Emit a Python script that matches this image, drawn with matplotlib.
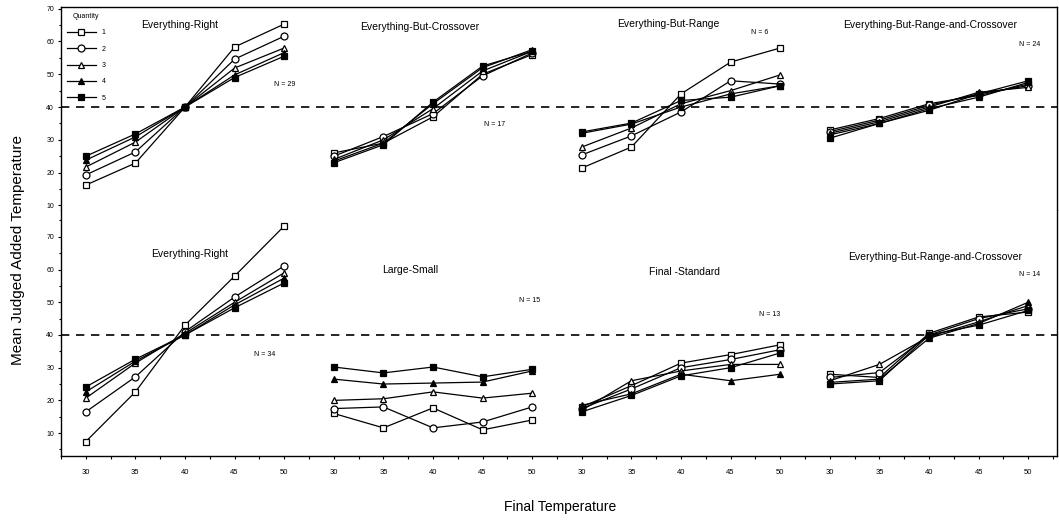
import numpy as np
import matplotlib.pyplot as plt
from matplotlib.ticker import FixedLocator, MultipleLocator

plt.rcParams['font.family'] = ['Liberation Sans', 'DejaVu Sans']

temps = [30, 35, 40, 45, 50]
quantities = ['1', '2', '3', '4', '5']

top_titles = ['Everything-Right', 'Everything-But-Crossover',
              'Everything-But-Range', 'Everything-But-Range-and-Crossover']
top_n = ['N = 29', 'N = 17', 'N = 6', 'N = 24']
bottom_titles = ['Everything-Right', 'Large-Small', 'Final -Standard',
                 'Everything-But-Range-and-Crossover']
bottom_n = ['N = 34', 'N = 15', 'N = 13', 'N = 14']

# rows = quantity 1..5, columns = final temperature 30..50
top_everything_right = [[16.2, 22.9, 40.0, 58.3, 65.3],
                        [19.3, 26.3, 40.0, 54.6, 61.6],
                        [21.7, 29.3, 40.0, 51.9, 58.0],
                        [23.8, 30.9, 40.0, 49.8, 56.6],
                        [25.0, 31.8, 40.0, 49.0, 55.5]]
top_but_crossover = [[26.0, 29.0, 37.0, 50.0, 56.0],
                     [25.0, 31.0, 38.0, 49.5, 56.5],
                     [24.0, 30.0, 39.5, 51.0, 57.0],
                     [23.5, 29.0, 41.0, 52.0, 57.5],
                     [23.0, 28.5, 41.5, 52.5, 57.0]]
top_but_range = [[21.4, 27.8, 44.0, 53.7, 58.0],
                 [25.4, 31.2, 38.5, 48.0, 47.0],
                 [27.8, 33.6, 41.0, 45.0, 49.8],
                 [32.0, 34.8, 40.0, 44.0, 46.5],
                 [32.4, 35.1, 42.0, 43.0, 46.5]]
top_but_range_crossover = [[33.0, 36.5, 41.0, 43.5, 47.0],
                           [32.5, 36.0, 40.5, 44.0, 46.5],
                           [32.0, 35.5, 40.0, 44.5, 46.0],
                           [31.5, 35.0, 39.5, 43.0, 47.5],
                           [30.5, 35.0, 39.0, 44.0, 48.0]]

bottom_everything_right = [[7.4, 22.6, 43.0, 58.0, 73.3],
                           [16.5, 27.2, 41.0, 51.6, 61.1],
                           [20.7, 31.4, 40.5, 50.0, 59.0],
                           [22.6, 32.0, 40.0, 49.2, 57.4],
                           [24.1, 32.6, 40.0, 48.3, 55.9]]
bottom_large_small = [[16.0, 11.6, 17.7, 11.0, 14.0],
                      [17.5, 18.0, 11.6, 13.4, 18.0],
                      [20.0, 20.5, 22.6, 20.7, 22.2],
                      [26.5, 25.0, 25.3, 25.6, 29.0],
                      [30.2, 28.4, 30.2, 27.2, 29.5]]
bottom_final_standard = [[18.0, 24.5, 31.4, 34.0, 37.0],
                         [17.5, 23.5, 30.0, 32.5, 35.5],
                         [17.0, 26.0, 29.0, 31.0, 31.0],
                         [18.5, 22.0, 28.0, 26.0, 28.0],
                         [16.5, 21.5, 27.5, 30.0, 34.5]]
bottom_but_range_crossover = [[28.0, 27.0, 40.5, 45.5, 47.0],
                              [27.0, 28.5, 40.0, 45.0, 48.0],
                              [26.0, 31.0, 39.5, 44.0, 49.0],
                              [25.5, 26.5, 39.0, 43.5, 50.0],
                              [25.0, 26.0, 40.0, 43.0, 47.5]]

top_panels = [top_everything_right, top_but_crossover,
              top_but_range, top_but_range_crossover]
bottom_panels = [bottom_everything_right, bottom_large_small,
                 bottom_final_standard, bottom_but_range_crossover]

markers = ['s', 'o', '^', '^', 's']
faces = ['white', 'white', 'white', 'black', 'black']

W, H = 1059, 521
fig = plt.figure(figsize=(W / 100, H / 100), dpi=100)


def fx(px):
    return px / W


def fy(py):
    return 1 - py / H


left, right = fx(61), fx(1057)
ax_top = fig.add_axes([left, fy(210), right - left, fy(7) - fy(210)])
ax_bot = fig.add_axes([left, fy(456), right - left, fy(210) - fy(456)])

xpos = np.arange(len(temps))
for ax, panels in [(ax_top, top_panels), (ax_bot, bottom_panels)]:
    for p, panel in enumerate(panels):
        for q, vals in enumerate(panel):
            ax.plot(xpos + p * len(temps), vals, color='black', lw=0.9,
                    marker=markers[q], ms=5, mfc=faces[q], mec='black',
                    mew=0.9, label=quantities[q] if p == 0 else None)
    ax.axhline(40, color='black', lw=1.2, ls=(0, (5, 4)))
    ax.set_xlim(-0.5, 19.58)
    for s in ax.spines.values():
        s.set_linewidth(1.0)
    ax.yaxis.set_major_locator(FixedLocator([10, 20, 30, 40, 50, 60, 70]))
    ax.yaxis.set_minor_locator(MultipleLocator(5))
    ax.tick_params(axis='y', labelsize=5, length=2, width=0.8, pad=3)
    ax.tick_params(axis='y', which='minor', length=1.5, width=0.8)

ax_top.set_ylim(8.6, 70.5)
ax_bot.set_ylim(3.0, 78.2)
ax_top.spines['bottom'].set_visible(False)
ax_bot.spines['top'].set_visible(False)
ax_top.tick_params(axis='x', bottom=False, labelbottom=False)

ax_bot.set_xticks(np.arange(20))
ax_bot.set_xticklabels([str(t) for t in temps] * 4)
ax_bot.xaxis.set_minor_locator(MultipleLocator(0.5))
ax_bot.tick_params(axis='x', labelsize=5.5, length=2.5, width=0.8, pad=7)
ax_bot.tick_params(axis='x', which='minor', length=2, width=0.8)

top_title_pos = [(180, 25), (420, 27), (668, 24), (930, 25)]
top_n_pos = [(285, 85), (495, 125), (760, 33), (1030, 45)]
bot_title_pos = [(190, 254), (410, 270), (685, 272), (935, 257)]
bot_n_pos = [(265, 354), (530, 301), (770, 315), (1030, 275)]

for t, (x, y) in zip(top_titles, top_title_pos):
    fig.text(fx(x), fy(y), t, fontsize=7.5, ha='center', va='center')
for t, (x, y) in zip(top_n, top_n_pos):
    fig.text(fx(x), fy(y), t, fontsize=5, ha='center', va='center')
for t, (x, y) in zip(bottom_titles, bot_title_pos):
    fig.text(fx(x), fy(y), t, fontsize=7.5, ha='center', va='center')
for t, (x, y) in zip(bottom_n, bot_n_pos):
    fig.text(fx(x), fy(y), t, fontsize=5, ha='center', va='center')

leg = ax_top.legend(title='Quantity', loc='upper left',
                    bbox_to_anchor=(fx(62), fy(8)),
                    bbox_transform=fig.transFigure, frameon=False,
                    fontsize=5, title_fontsize=5, handlelength=4.2,
                    labelspacing=1.35, handletextpad=0.8, borderpad=0.2)
leg._legend_box.align = 'center'

fig.text(fx(18), fy(250), 'Mean Judged Added Temperature', rotation=90,
         fontsize=11, ha='center', va='center')
fig.text(fx(560), fy(507), 'Final Temperature', fontsize=10,
         ha='center', va='center')

fig.savefig('out.png', dpi=100)
